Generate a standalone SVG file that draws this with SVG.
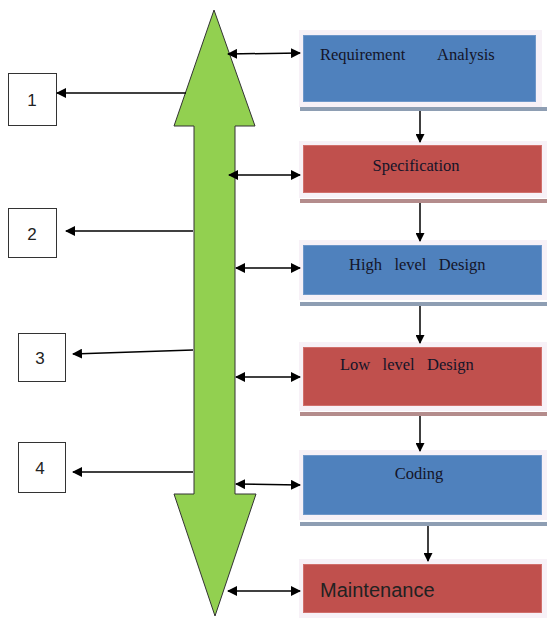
<svg xmlns="http://www.w3.org/2000/svg" width="547" height="618" viewBox="0 0 547 618">
  <defs>
    <marker id="ah" markerWidth="10" markerHeight="10" refX="9" refY="5" orient="auto-start-reverse" markerUnits="userSpaceOnUse">
      <path d="M0,0 L10,5 L0,10 z" fill="#000"/>
    </marker>
    <marker id="ahs" markerWidth="9" markerHeight="9" refX="8" refY="4.5" orient="auto" markerUnits="userSpaceOnUse">
      <path d="M0,0 L9,4.5 L0,9 z" fill="#000"/>
    </marker>
  </defs>
  <style>
    .frame { fill: #f7f1f7; }
    .blue { fill: #4f81bd; stroke: #6f97c9; stroke-width: 1; }
    .red { fill: #c0504d; stroke: #d06f6c; stroke-width: 1; }
    .shb { fill: #8e9eb3; }
    .shr { fill: #b48c8c; }
    .serif { font-family: "Liberation Serif", "Times New Roman", serif; font-size: 16.5px; fill: #141428; }
    .sans { font-family: "Liberation Sans", Arial, sans-serif; fill: #222; }
    .num { fill: #fff; stroke: #333; stroke-width: 1; }
    .link { stroke: #000; stroke-width: 1.5; fill: none; }
    .both { marker-start: url(#ah); marker-end: url(#ah); }
    .one { marker-end: url(#ah); }
    .down { marker-end: url(#ahs); }
  </style>

  <!-- central bidirectional arrow -->
  <g id="lifecycle-arrow">
    <polygon points="214,10 255,126 235,126 235,494 256,494 215,616 174,494 194,494 194,126 174,126" fill="#92d050" stroke="#333" stroke-width="1"/>
  </g>

  <!-- phase boxes -->
  <g id="requirement-analysis">
    <rect class="frame" x="299" y="30" width="243" height="77"/>
    <rect class="shb" x="300" y="107" width="247" height="4"/>
    <rect class="blue" x="303.5" y="35.5" width="232" height="66"/>
    <text class="serif" x="320" y="60">Requirement</text>
    <text class="serif" x="437" y="60">Analysis</text>
  </g>
  <g id="specification">
    <rect class="frame" x="299" y="141" width="248" height="57"/>
    <rect class="shr" x="300" y="199" width="247" height="4"/>
    <rect class="red" x="303.5" y="145.5" width="238" height="47"/>
    <text class="serif" x="416" y="171" text-anchor="middle">Specification</text>
  </g>
  <g id="high-level-design">
    <rect class="frame" x="299" y="240" width="248" height="60"/>
    <rect class="shb" x="300" y="302" width="247" height="4"/>
    <rect class="blue" x="303.5" y="245.5" width="238" height="49"/>
    <text class="serif" x="349" y="270" xml:space="preserve">High   level   Design</text>
  </g>
  <g id="low-level-design">
    <rect class="frame" x="299" y="342" width="248" height="69"/>
    <rect class="shr" x="300" y="412" width="247" height="4"/>
    <rect class="red" x="303.5" y="347.5" width="238" height="58"/>
    <text class="serif" x="340" y="370" xml:space="preserve">Low   level   Design</text>
  </g>
  <g id="coding">
    <rect class="frame" x="299" y="450" width="248" height="70"/>
    <rect class="shb" x="300" y="522" width="247" height="4"/>
    <rect class="blue" x="303.5" y="455.5" width="238" height="59"/>
    <text class="serif" x="419" y="479" text-anchor="middle">Coding</text>
  </g>
  <g id="maintenance">
    <rect class="frame" x="299" y="559" width="248" height="59"/>
    <rect class="red" x="303.5" y="564.5" width="238" height="48"/>
    <text class="sans" x="320" y="597" font-size="20">Maintenance</text>
  </g>

  <!-- numbered markers -->
  <g id="n1">
    <rect class="num" x="8.5" y="73.5" width="48" height="52"/>
    <text class="sans" x="32" y="106" font-size="17" text-anchor="middle">1</text>
  </g>
  <g id="n2">
    <rect class="num" x="8.5" y="208.5" width="48" height="49"/>
    <text class="sans" x="32" y="240" font-size="17" text-anchor="middle">2</text>
  </g>
  <g id="n3">
    <rect class="num" x="18.5" y="333.5" width="47" height="48"/>
    <text class="sans" x="40" y="364" font-size="17" text-anchor="middle">3</text>
  </g>
  <g id="n4">
    <rect class="num" x="18.5" y="442.5" width="47" height="50"/>
    <text class="sans" x="40" y="474" font-size="17" text-anchor="middle">4</text>
  </g>

  <!-- connectors -->
  <g id="connectors">
    <line class="link one" x1="186" y1="93" x2="57" y2="93" stroke="#444"/>
    <line class="link one" x1="193" y1="231" x2="66" y2="231"/>
    <line class="link one" x1="193" y1="350" x2="73" y2="354"/>
    <line class="link one" x1="193" y1="472" x2="73" y2="472"/>

    <line class="link both" x1="228" y1="54" x2="300" y2="53"/>
    <line class="link both" x1="229" y1="175" x2="300" y2="175"/>
    <line class="link both" x1="236" y1="268" x2="300" y2="268"/>
    <line class="link both" x1="236" y1="377" x2="300" y2="377"/>
    <line class="link both" x1="236" y1="484" x2="300" y2="485"/>
    <line class="link both" x1="228" y1="591" x2="300" y2="591"/>

    <line class="link down" x1="420" y1="111" x2="420" y2="142"/>
    <line class="link down" x1="420" y1="203" x2="420" y2="241"/>
    <line class="link down" x1="420" y1="306" x2="420" y2="343"/>
    <line class="link down" x1="420" y1="416" x2="420" y2="451"/>
    <line class="link down" x1="428" y1="526" x2="428" y2="561"/>
  </g>
</svg>
